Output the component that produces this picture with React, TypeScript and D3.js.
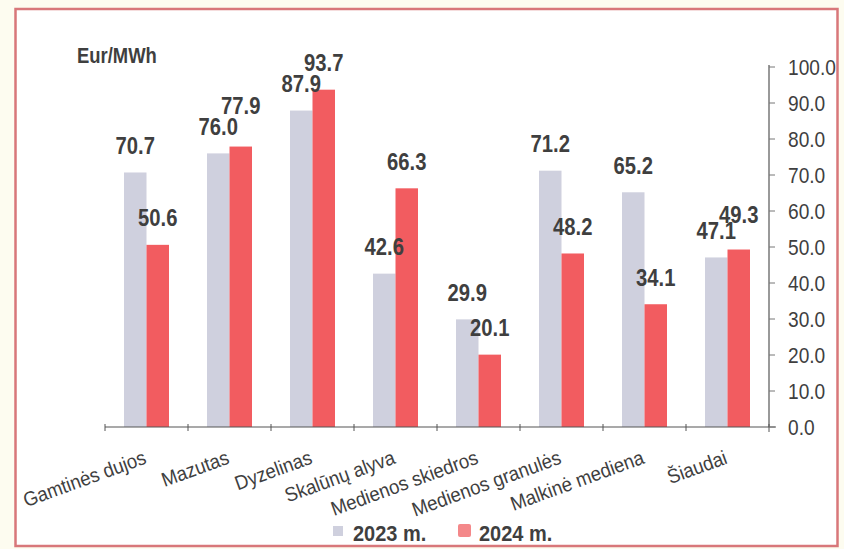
import React from "react";
import * as d3 from "d3";

const categories = [
  "Gamtinės dujos",
  "Mazutas",
  "Dyzelinas",
  "Skalūnų alyva",
  "Medienos skiedros",
  "Medienos granulės",
  "Malkinė mediena",
  "Šiaudai",
];
const values2023 = [70.7, 76.0, 87.9, 42.6, 29.9, 71.2, 65.2, 47.1];
const values2024 = [50.6, 77.9, 93.7, 66.3, 20.1, 48.2, 34.1, 49.3];
const seriesNames = ["2023 m.", "2024 m."];
const yTicks = [0, 10, 20, 30, 40, 50, 60, 70, 80, 90, 100];

// layout: extra lift (px) for value labels that would collide
const liftByCategory2024: Record<string, number> = { Mazutas: 14, "Šiaudai": 8 };

const W = 844;
const H = 549;
const COL23 = "#cfd0de";
const COL24 = "#f25c60";
const TXT = "#3f3f3f";
const FONT = "Arial, 'Liberation Sans', Helvetica, sans-serif";

export default function App() {
  const x0 = d3.scaleBand<string>().domain(categories).range([105, 769]).paddingInner(0).paddingOuter(0);
  const bw = x0.bandwidth();
  const x1 = d3.scaleBand<string>().domain(seriesNames).range([19, bw - 19]).padding(0);
  const y = d3.scaleLinear().domain([0, 100]).range([427, 67]);
  const series = [values2023, values2024];
  const colors = [COL23, COL24];

  return (
    <svg width={W} height={H} style={{ position: "fixed", left: 0, top: 0 }} fontFamily={FONT}>
      <rect x={0} y={0} width={W} height={H} fill="#fdfcf0" />
      <rect x={15.5} y={9} width={822} height={537} fill="#ffffff" stroke="#d8777a" strokeWidth={2.5} />
      <text transform="translate(77,63) scale(0.82,1)" fontSize={22.5} fontWeight="bold" fill={TXT}>Eur/MWh</text>

      {series.map((vals, si) =>
        vals.map((v, i) => {
          const c = categories[i];
          const bx = (x0(c) as number) + (x1(seriesNames[si]) as number);
          return (
            <rect key={`b${si}-${i}`} x={bx} y={y(v)} width={x1.bandwidth()} height={y(0) - y(v)} fill={colors[si]} />
          );
        })
      )}

      {series.map((vals, si) =>
        vals.map((v, i) => {
          const c = categories[i];
          const cx = (x0(c) as number) + (x1(seriesNames[si]) as number) + x1.bandwidth() / 2;
          const lift = si === 1 ? liftByCategory2024[c] || 0 : 0;
          return (
            <text key={`l${si}-${i}`} transform={`translate(${cx},${y(v) - 18.5 - lift}) scale(0.88,1)`} fontSize={23} fontWeight="bold" fill={TXT} textAnchor="middle">
              {v.toFixed(1)}
            </text>
          );
        })
      )}

      {/* x axis */}
      <line x1={105} x2={776} y1={y(0)} y2={y(0)} stroke="#555" strokeWidth={1.2} />
      {categories.map((c, i) => (
        <line key={`xt${i}`} x1={x0(c) as number} x2={x0(c) as number} y1={y(0) - 3} y2={y(0) + 4} stroke="#555" strokeWidth={1} />
      ))}
      <line x1={769} x2={769} y1={y(0) - 3} y2={y(0) + 5} stroke="#555" strokeWidth={1} />
      {categories.map((c, i) => {
        const cx = (x0(c) as number) + bw / 2 + 1;
        return (
          <text key={`xl${i}`} transform={`translate(${cx},463) rotate(-20) scale(0.93,1)`} textAnchor="end" fontSize={20} fill={TXT}>
            {c}
          </text>
        );
      })}

      {/* right y axis */}
      <line x1={769} x2={769} y1={y(100) - 2} y2={y(0)} stroke="#555" strokeWidth={1.2} />
      {yTicks.map((t) => (
        <g key={`yt${t}`}>
          <line x1={769} x2={775} y1={y(t)} y2={y(t)} stroke="#777" strokeWidth={1} />
          <text transform={`translate(788,${y(t)}) scale(0.85,1)`} dy="0.35em" fontSize={22.5} fill={TXT}>
            {t.toFixed(1)}
          </text>
        </g>
      ))}

      {/* legend */}
      <rect x={333} y={526} width={10} height={10} fill={COL23} />
      <text transform="translate(353,541) scale(0.93,1)" fontSize={21.5} fontWeight="bold" fill={TXT}>{seriesNames[0]}</text>
      <rect x={458} y={524} width={13} height={13} rx={2} fill="#f4888a" />
      <text transform="translate(479,541) scale(0.93,1)" fontSize={21.5} fontWeight="bold" fill={TXT}>{seriesNames[1]}</text>
    </svg>
  );
}
